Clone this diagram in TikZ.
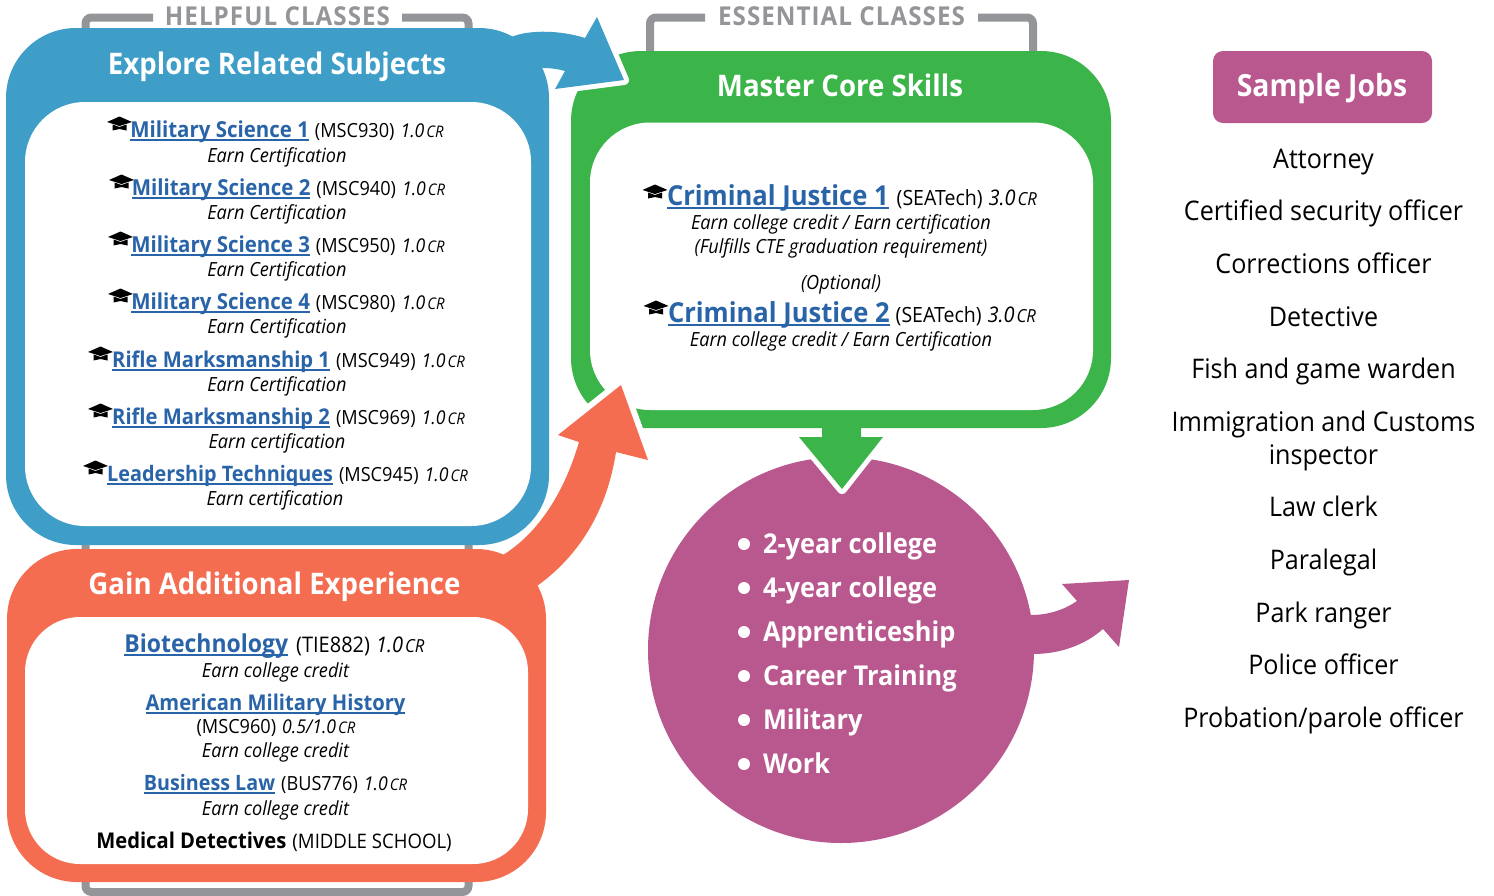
\documentclass[tikz,border=0pt]{standalone}
\usepackage{fontspec}
\setmainfont[FakeStretch=0.93]{Open Sans}
\definecolor{cblue}{HTML}{3F9EC8}
\definecolor{cgreen}{HTML}{3BB54A}
\definecolor{corange}{HTML}{F46D51}
\definecolor{cpurple}{HTML}{B8588F}
\definecolor{cgray}{HTML}{939598}
\definecolor{clink}{HTML}{2A64A8}
\newcommand\fsz[1]{\fontsize{#1}{#1}\selectfont}
\newcommand\lnk[2]{{\fsz{#1}\bfseries\color{clink}\setbox0=\hbox{#2}\rlap{\raisebox{-3pt}{\rule{\wd0}{1.4pt}}}\box0}}
\newcommand\sep{\hspace{6pt}}
\newcommand\crd[3]{{\fsz{#1}\itshape #3\hspace{2pt}{\fsz{#2}CR}}}
\newcommand\crsm[1]{\crd{19}{16}{#1}}
\newcommand\crbg[1]{\crd{21.5}{18}{#1}}
\newcommand\code[2][19.5]{{\fsz{#1}#2}}
\tikzset{
  x=1pt,y=-1pt,
  txt/.style={anchor=base,inner sep=0pt,outer sep=0pt,text=black,yshift=-0.8pt},
  subt/.style={txt,font=\fsz{19.5}\itshape},
  title/.style={txt,text=white,font=\fsz{29.7}\bfseries},
  head/.style={txt,text=cgray,font=\fsz{26}\bfseries\addfontfeature{LetterSpace=4}},
  job/.style={txt,font=\fsz{27}},
  bul/.style={txt,anchor=base west,text=white,font=\fsz{27.3}\bfseries},
  bracket/.style={draw=cgray,line width=8pt,rounded corners=6pt},
  halo/.style={draw=white,fill=white,line width=#1,line join=round},
  gradhat/.pic={
    \fill[black] (0,-6.5) -- (12.5,-1) -- (0,3) -- (-12.5,-1) -- cycle;
    \fill[black] (-7,1.5) -- (0,4) -- (7,1.5) -- (7,7.5) -- (0,6) -- (-7,7.5) -- cycle;
  }
}
\begin{document}
\begin{tikzpicture}
\fill[white] (0,0) rectangle (1494,895);
\useasboundingbox (0,0) rectangle (1494,895);
% brackets
\draw[bracket] (153,17.5) -- (85.5,17.5) -- (85.5,892) -- (468.5,892) -- (468.5,17.5) -- (402,17.5);
\draw[bracket] (705,17.5) -- (650,17.5) -- (650,70);
\draw[bracket] (978,17.5) -- (1033,17.5) -- (1033,70);
% purple
\fill[cpurple] (1031,615) .. controls (1048,615) and (1064,610) .. (1077,601) -- (1062,584) -- (1129,580) -- (1119,647) -- (1103,629) .. controls (1085,645) and (1060,654) .. (1033,654) -- (1010,654) -- (1010,615) -- cycle;
\fill[cpurple] (841,650) circle (193);
% green box
\fill[cgreen,rounded corners=70pt] (571,51) rectangle (1111,428);
\path[halo=10pt] (799,437) -- (883,437) -- (842,489) -- cycle;
\fill[cgreen] (822,420) -- (861,420) -- (861,437) -- (883,437) -- (842,489) -- (799,437) -- (822,437) -- cycle;
\fill[white,rounded corners=60pt] (590,122.5) rectangle (1093,410);
% halos
\path[halo=12pt] (558,435) -- (621,385) -- (648,460) -- (616,452) -- (579,442) -- cycle;
\path[halo=10pt] (597,17) -- (624,80) -- (555,89) -- (565,71) -- (585,38) -- cycle;
% orange
\fill[corange] (503,555) .. controls (540,532) and (565,490) .. (579,442) -- (558,435) -- (621,385) -- (648,460) -- (616,452) .. controls (607,510) and (580,555) .. (537,586) -- (500,590) -- cycle;
\fill[corange,rounded corners=70pt] (7,549) rectangle (546,882);
\fill[white,rounded corners=55pt] (25,617) rectangle (528,864);
% blue
\fill[cblue,rounded corners=70pt] (6,28) rectangle (549,545);
\fill[cblue] (505,40) -- (514,36) .. controls (530,30) and (560,30) .. (585,38) -- (597,17) -- (624,80) -- (555,89) -- (565,71) .. controls (558,69) and (550,68) .. (544,68) -- (520,70) -- cycle;
\fill[white,rounded corners=60pt] (25,102) rectangle (531,526);
% sample jobs box
\fill[cpurple,rounded corners=10pt] (1213,51) rectangle (1432,123);
% headers
\node[head] (hHelp) at (277.5,25) {HELPFUL CLASSES};
\node[head] (hEss) at (841.5,25) {ESSENTIAL CLASSES};
\node[title] (tBlue) at (277,74) {Explore Related Subjects};
\node[title] (tGreen) at (840,96) {Master Core Skills};
\node[title] (tOrange) at (274.5,594) {Gain Additional Experience};
\node[title,font=\fsz{30.5}\bfseries] (tJobs) at (1322,96) {Sample Jobs};
% blue list
\foreach \hx/\hy in {119.5/123,121.5/181,120.5/238,120.5/295,100.5/353,100.5/410,95.5/467} \pic at (\hx,\hy) {gradhat};
\node[txt] (b1) at (287,137) {\lnk{22}{Military Science 1}\sep\code{(MSC930)}\sep\crsm{1.0}};
\node[subt] (b1s) at (277,162) {Earn Certification};
\node[txt] (b2) at (288.5,195) {\lnk{22}{Military Science 2}\sep\code{(MSC940)}\sep\crsm{1.0}};
\node[subt] (b2s) at (277,219) {Earn Certification};
\node[txt] (b3) at (288,252) {\lnk{22}{Military Science 3}\sep\code{(MSC950)}\sep\crsm{1.0}};
\node[subt] (b3s) at (277,276) {Earn Certification};
\node[txt] (b4) at (288,309) {\lnk{22}{Military Science 4}\sep\code{(MSC980)}\sep\crsm{1.0}};
\node[subt] (b4s) at (277,333) {Earn Certification};
\node[txt] (b5) at (288.5,367) {\lnk{21.7}{Rifle Marksmanship 1}\sep\code{(MSC949)}\sep\crsm{1.0}};
\node[subt] (b5s) at (277,391) {Earn Certification};
\node[txt] (b6) at (288.5,424) {\lnk{21.7}{Rifle Marksmanship 2}\sep\code{(MSC969)}\sep\crsm{1.0}};
\node[subt] (b6s) at (277,448) {Earn certification};
\node[txt] (b7) at (287.5,481) {\lnk{21.3}{Leadership Techniques}\sep\code{(MSC945)}\sep\crsm{1.0}};
\node[subt] (b7s) at (275,505) {Earn certification};
% green list
\pic at (655,191) {gradhat};
\pic at (656,307) {gradhat};
\node[txt] (g1) at (852,205) {\lnk{27.5}{Criminal Justice 1}\hspace{8pt}\code[21]{(SEATech)}\sep\crbg{3.0}};
\node[subt] (g1a) at (841,229) {Earn college credit / Earn certification};
\node[subt] (g1b) at (841,253) {(Fulfills CTE graduation requirement)};
\node[subt] (g1c) at (841,289) {(Optional)};
\node[txt] (g2) at (852,322) {\lnk{27.5}{Criminal Justice 2}\sep\code[21]{(SEATech)}\sep\crbg{3.0}};
\node[subt] (g2a) at (841,346) {Earn college credit / Earn Certification};
% orange list
\node[txt] (o1) at (274.5,652) {\lnk{24.7}{Biotechnology}\hspace{8pt}\code[21.5]{(TIE882)}\sep\crbg{1.0}};
\node[subt] (o1s) at (275.5,677) {Earn college credit};
\node[txt] (o2) at (275.5,710) {\lnk{21.7}{American Military History}};
\node[txt] (o2b) at (276,733) {\code{(MSC960)}\sep\crsm{0.5/1.0}};
\node[subt] (o2s) at (275.5,757) {Earn college credit};
\node[txt] (o3) at (275.5,790) {\lnk{21.2}{Business Law}\sep\code{(BUS776)}\sep\crsm{1.0}};
\node[subt] (o3s) at (275.5,815) {Earn college credit};
\node[txt] (o4) at (274,848) {{\fsz{21.7}\bfseries Medical Detectives}\sep\code[20]{(MIDDLE SCHOOL)}};
% bullets
\foreach \yy/\lab [count=\ii] in {544/2-year college,588/4-year college,632/Apprenticeship,676/Career Training,720/Military,764/Work}{
  \fill[white] (744,\yy) circle (6);
  \node[bul] (bul\ii) at (763,\yy+9) {\lab};
}
% jobs
\node[job] (j1) at (1323.5,168) {Attorney};
\node[job] (j2) at (1323.5,220) {Certified security officer};
\node[job] (j3) at (1323.5,273) {Corrections officer};
\node[job] (j4) at (1323.5,326) {Detective};
\node[job] (j5) at (1323.5,378) {Fish and game warden};
\node[job] (j6) at (1323.5,431) {Immigration and Customs};
\node[job] (j6b) at (1323.5,464) {inspector};
\node[job] (j7) at (1323.5,516) {Law clerk};
\node[job] (j8) at (1323.5,569) {Paralegal};
\node[job] (j9) at (1323.5,622) {Park ranger};
\node[job] (j10) at (1323.5,674) {Police officer};
\node[job] (j11) at (1323.5,727) {Probation/parole officer};
\end{tikzpicture}
\end{document}
